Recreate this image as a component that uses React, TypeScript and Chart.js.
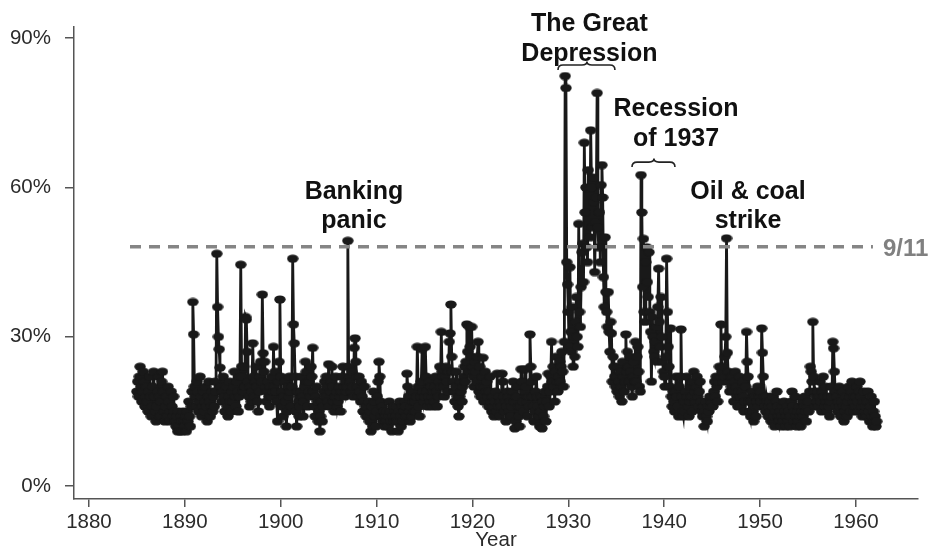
import React, { useEffect, useRef } from 'react';
import { Chart, registerables } from 'chart.js';

Chart.register(...registerables);

// Monthly volatility (%) starting January 1885
const startYear = 1885;
const vol1885to1889 = [
  19, 21, 18, 22, 24, 20, 17, 19, 23, 21, 16, 18,
  20, 17, 15, 19, 22, 18, 14, 16, 20, 23, 18, 15,
  13, 16, 19, 22, 18, 14, 17, 21, 23, 19, 15, 13,
  16, 18, 14, 20, 17, 13, 15, 19, 16, 14, 18, 15,
  13, 12, 14, 11, 15, 12, 11, 14, 13, 11, 15, 13,
];
const vol1890s = [
  12, 14, 11, 15, 13, 17, 14, 12, 16, 19, 37, 30.5,
  20, 18, 16, 21, 19, 15, 17, 22, 18, 14, 16, 19,
  15, 17, 20, 16, 13, 18, 21, 17, 14, 16, 19, 15,
  18, 16, 21, 19, 46.7, 36, 30, 27.5, 23.8, 20, 17, 19,
  22, 18, 15, 17, 20, 16, 14, 18, 21, 17, 15, 19,
  17, 20, 23, 18, 16, 21, 19, 15, 18, 22, 44.5, 24,
  22, 19, 24, 20, 34, 33.5, 27, 21, 18, 16, 20, 17,
  19, 28.7, 22, 18, 21, 24, 20, 17, 15, 19, 22, 25,
  21, 38.5, 26.7, 23, 25, 20, 17, 19, 21, 18, 16, 20,
  18, 22, 19, 28, 20, 23, 19, 17, 13, 21, 25, 37.5,
];
const vol1900s = [
  22, 19, 16, 14, 18, 21, 17, 12, 15, 20, 18, 22,
  19, 16, 20, 45.7, 32.5, 28.7, 22, 15, 12, 19, 17, 14,
  16, 19, 22, 18, 14, 17, 20, 25, 23, 21, 16, 19,
  21, 18, 24, 22, 27.8, 19, 16, 14, 18, 20, 17, 13,
  15, 11, 14, 17, 13, 16, 19, 21, 18, 22, 20, 17,
  24.5, 16, 19, 21, 24, 20, 17, 15, 18, 22, 19, 16,
  17, 20, 18, 15, 19, 22, 24, 20, 18, 21, 19, 20,
  49.3, 24, 22, 21, 19, 23, 20, 18, 27.8, 29.7, 25, 22,
  20, 18, 22, 19, 17, 21, 18, 15, 17, 20, 16, 14,
  16, 14, 17, 13, 15, 11, 16, 12, 19, 17, 14, 12,
];
const vol1910s = [
  15, 18, 21, 25, 22, 17, 14, 16, 13, 15, 12, 14,
  13, 15, 12, 14, 17, 15, 13, 11, 14, 16, 13, 15,
  14, 16, 13, 11, 15, 17, 14, 12, 16, 13, 15, 17,
  16, 14, 22.6, 20, 18, 15, 13, 16, 14, 17, 19, 15,
  17, 15, 18, 28, 20, 16, 14, 18, 21, 27.5, 19, 17,
  18, 28, 22, 19, 16, 18, 21, 17, 20, 18, 16, 19,
  17, 20, 22, 19, 16, 18, 21, 24, 20, 31, 23, 22,
  20, 18, 22, 24, 21, 19, 23, 29, 30.7, 36.5, 26, 23,
  21, 19, 17, 20, 23, 18, 16, 14, 18, 21, 19, 17,
  20, 22, 24, 21, 25, 32.5, 27, 23, 32, 28, 26, 32,
];
const vol1920s = [
  24, 22, 20, 25, 23, 21, 26, 29, 19, 24, 18, 20,
  22, 25.8, 17, 20, 23, 19, 21, 18, 16, 19, 22, 17,
  15, 18, 16, 14, 17, 19, 15, 22.6, 16, 18, 14, 17,
  16, 22.6, 21, 18, 15, 17, 13, 16, 19, 18, 15, 17,
  14, 16, 19, 21, 17, 11.6, 13, 18, 20, 16, 14, 12,
  16, 23.5, 21, 17, 15, 19, 23.5, 20, 17, 14, 18, 16,
  30.5, 24, 21, 18, 16, 13, 15, 19, 22, 18, 16, 14,
  12, 15, 18, 11.6, 17, 14, 16, 19, 13, 17, 20, 22.6,
  16, 19, 22, 29, 21, 24, 20, 17, 23, 26, 21, 19,
  22, 25, 21, 24, 27, 23, 20, 29, 82.4, 80, 45, 40.5,
];
const vol1930s = [
  35, 28, 44, 31, 27, 36, 24, 30, 26, 33, 38, 30,
  28, 52.7, 35, 32, 40, 47, 48.7, 41, 69, 55, 60, 48,
  45, 63.5, 59.7, 50, 71.5, 60, 52, 62, 57, 43, 53, 58,
  79, 52, 48, 55, 45, 60.5, 64.5, 58, 42, 36, 50, 39,
  35, 32, 39, 31, 27, 33, 30.7, 21, 26, 24, 22, 20,
  22, 19, 24, 21, 18, 23, 20, 17, 25, 22, 19, 21,
  30.5, 23, 27, 24, 21, 26, 23, 20, 18, 22, 25, 21,
  29, 21, 26, 28, 23, 20, 19, 62.5, 55, 40, 49.7, 35,
  33, 45, 48, 41, 38, 47, 35, 31, 21, 34, 30, 27,
  26, 29, 32, 25, 36, 43.7, 33, 28, 38, 30, 25, 23,
];
const vol1940s = [
  22, 20, 26, 45.7, 35, 28, 24, 20, 31.7, 18, 16, 19,
  17, 15, 19, 22, 18, 16, 14, 20, 22, 31.5, 18, 15,
  14, 17, 15, 19, 22, 18, 16, 14, 17, 20, 18, 15,
  21, 23, 19, 17, 20, 22, 18, 16, 19, 21, 17, 15,
  14, 16, 12, 15, 17, 14, 13, 16, 15, 18, 16, 17,
  18, 16, 19, 21, 18, 22, 20, 17, 21, 24, 22, 32.5,
  23, 21, 24, 22, 26, 30, 49.8, 26.8, 23, 21, 19, 22,
  20, 22, 19, 17, 21, 23, 20, 18, 16, 19, 22, 18,
  16, 19, 21, 18, 15, 17, 20, 31, 25, 22, 17, 15,
  14, 17, 19, 15, 13, 16, 18, 14, 17, 20, 16, 18,
];
const vol1950s = [
  19, 17, 31.7, 26.8, 22, 18, 16, 15, 18, 17, 14, 16,
  17, 15, 13, 16, 18, 14, 12, 15, 17, 19, 16, 14,
  13, 15, 12, 14, 16, 13, 17, 15, 12, 14, 16, 13,
  15, 12, 14, 17, 19, 16, 13, 15, 18, 14, 12, 15,
  13, 16, 14, 12, 15, 17, 14, 16, 18, 15, 13, 16,
  17, 15, 19, 24, 23, 21, 33, 22, 19, 16, 18, 17,
  19, 16, 18, 21, 17, 15, 19, 22, 18, 16, 20, 17,
  15, 18, 16, 14, 17, 20, 18, 29, 27.7, 23, 19, 16,
  18, 15, 17, 20, 16, 14, 17, 19, 16, 13, 15, 18,
  16, 14, 17, 20, 18, 15, 19, 21, 17, 15, 18, 16,
];
const vol1960to1962 = [
  18, 20, 17, 15, 19, 21, 18, 16, 14, 17, 19, 15,
  16, 14, 17, 19, 15, 13, 16, 18, 14, 12, 15, 17,
  14, 12, 13,
];

const yTicks = [0, 30, 60, 90];
const xTicks = [1880, 1890, 1900, 1910, 1920, 1930, 1940, 1950, 1960];

const refLevel = 48.1;
const refLabel = '9/11';
const refSpan = [1884.28, 1961.77];

const annotations = [
  { lines: ['Banking', 'panic'], year: 1907.64, values: [57.7, 51.9] },
  { lines: ['The Great', 'Depression'], year: 1932.2, values: [91.4, 85.4] },
  { lines: ['Recession', 'of 1937'], year: 1941.23, values: [74.4, 68.4] },
  { lines: ['Oil & coal', 'strike'], year: 1948.74, values: [57.7, 51.9] },
];
const braces = [
  { from: 1928.92, to: 1934.86, tip: 1931.94, value: 84.6 },
  { from: 1936.64, to: 1941.12, tip: 1938.93, value: 65.1 },
];

const FONT = '"Liberation Sans", Arial, Helvetica, sans-serif';

function makeMarker() {
  const c = document.createElement('canvas');
  c.width = 12;
  c.height = 9;
  const g = c.getContext('2d')!;
  g.fillStyle = '#191919';
  g.beginPath();
  g.ellipse(6, 4.5, 5.7, 4.1, 0, 0, Math.PI * 2);
  g.fill();
  return c;
}

export default function App() {
  const ref = useRef<HTMLCanvasElement | null>(null);

  useEffect(() => {
    document.body.style.margin = '0';
    const canvas = ref.current;
    if (!canvas) return;
    const all = [
      ...vol1885to1889, ...vol1890s, ...vol1900s, ...vol1910s, ...vol1920s,
      ...vol1930s, ...vol1940s, ...vol1950s, ...vol1960to1962,
    ];
    const points = all.map((v, i) => ({ x: startYear + i / 12, y: v }));
    const marker = makeMarker();

    const annotationPlugin = {
      id: 'annots',
      afterDraw(chart: any) {
        const { ctx, scales } = chart;
        const xs = scales.x;
        const ys = scales.y;
        ctx.save();
        ctx.fillStyle = '#111';
        ctx.font = `bold 25px ${FONT}`;
        ctx.textAlign = 'center';
        ctx.textBaseline = 'alphabetic';
        for (const a of annotations) {
          const px = xs.getPixelForValue(a.year);
          a.lines.forEach((t, i) => {
            ctx.fillText(t, px, ys.getPixelForValue(a.values[i]));
          });
        }
        ctx.strokeStyle = '#222';
        ctx.lineWidth = 1.6;
        for (const b of braces) {
          const x1 = xs.getPixelForValue(b.from);
          const x2 = xs.getPixelForValue(b.to);
          const xm = xs.getPixelForValue(b.tip);
          const y = ys.getPixelForValue(b.value);
          const h = 5;
          ctx.beginPath();
          ctx.moveTo(x1, y + h);
          ctx.quadraticCurveTo(x1, y, x1 + h, y);
          ctx.lineTo(xm - h, y);
          ctx.quadraticCurveTo(xm, y, xm, y - 3.5);
          ctx.quadraticCurveTo(xm, y, xm + h, y);
          ctx.lineTo(x2 - h, y);
          ctx.quadraticCurveTo(x2, y, x2, y + h);
          ctx.stroke();
        }
        ctx.fillStyle = '#808080';
        ctx.font = `bold 24px ${FONT}`;
        ctx.textAlign = 'left';
        ctx.fillText(refLabel, xs.getPixelForValue(refSpan[1]) + 10, ys.getPixelForValue(refLevel) + 9);
        ctx.restore();
      },
    };

    const chart = new Chart(canvas, {
      type: 'line',
      data: {
        datasets: [
          {
            data: [
              { x: refSpan[0], y: refLevel },
              { x: refSpan[1], y: refLevel },
            ],
            borderColor: '#858585',
            borderWidth: 3.5,
            borderDash: [11, 8],
            pointRadius: 0,
          },
          {
            data: points,
            borderColor: '#191919',
            borderWidth: 2.8,
            pointStyle: marker as any,
            pointRadius: 5,
            tension: 0,
          },
        ],
      },
      options: {
        responsive: false,
        animation: false,
        devicePixelRatio: 1,
        layout: { padding: { top: 23, right: 15, left: 0, bottom: 0 } },
        plugins: {
          legend: { display: false },
          tooltip: { enabled: false },
        },
        scales: {
          x: {
            type: 'linear',
            min: 1878.44,
            max: 1966.47,
            afterFit: (s: any) => { s.height = 54; },
            afterBuildTicks: (s: any) => { s.ticks = xTicks.map((v) => ({ value: v })); },
            ticks: {
              color: '#2b2b2b',
              font: { family: FONT, size: 20.5 },
              padding: 3,
              maxRotation: 0,
              callback: (v: any) => String(v),
            },
            grid: { display: true, drawOnChartArea: false, drawTicks: true, tickLength: 8, color: '#555', lineWidth: 1.5 },
            border: { display: true, color: '#555', width: 1.5 },
            title: {
              display: true,
              text: 'Year',
              color: '#2b2b2b',
              font: { family: FONT, size: 20.5 },
              padding: 0,
            },
          },
          y: {
            type: 'linear',
            min: -2.59,
            max: 92.39,
            afterFit: (s: any) => { s.width = 74; },
            afterBuildTicks: (s: any) => { s.ticks = yTicks.map((v) => ({ value: v })); },
            ticks: {
              color: '#2b2b2b',
              font: { family: FONT, size: 20.5 },
              padding: 14,
              callback: (v: any) => `${v}%`,
            },
            grid: { display: true, drawOnChartArea: false, drawTicks: true, tickLength: 9, color: '#555', lineWidth: 1.5 },
            border: { display: true, color: '#555', width: 1.5 },
          },
        },
      },
      plugins: [annotationPlugin],
    });
    return () => chart.destroy();
  }, []);

  return (
    <div style={{ width: 933, height: 553 }}>
      <canvas ref={ref} width={933} height={553} style={{ display: 'block' }} />
    </div>
  );
}
